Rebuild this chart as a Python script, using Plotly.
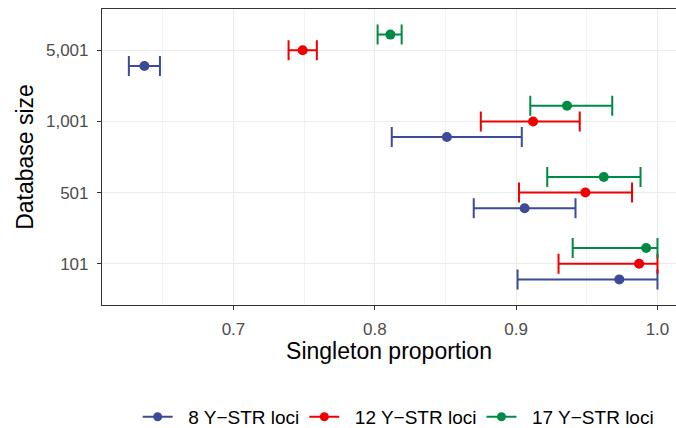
import plotly.graph_objects as go

categories = ["101", "501", "1,001", "5,001"]
series_names = ["8 Y\u2212STR loci", "12 Y\u2212STR loci", "17 Y\u2212STR loci"]
colors = ["#3B4B9A", "#EE0000", "#008B45"]

# proportions per category (101, 501, 1001, 5001)
est_8 = [0.973, 0.906, 0.851, 0.637]
lo_8 = [0.901, 0.870, 0.812, 0.626]
hi_8 = [1.000, 0.942, 0.904, 0.648]

est_12 = [0.987, 0.949, 0.912, 0.749]
lo_12 = [0.930, 0.902, 0.875, 0.739]
hi_12 = [1.000, 0.982, 0.945, 0.759]

est_17 = [0.992, 0.962, 0.936, 0.811]
lo_17 = [0.940, 0.922, 0.910, 0.802]
hi_17 = [1.000, 0.988, 0.968, 0.819]

x_ticks = [0.7, 0.8, 0.9, 1.0]
x_tick_labels = ["0.7", "0.8", "0.9", "1.0"]

dodge = [-0.22, 0.0, 0.22]
series = [(est_8, lo_8, hi_8), (est_12, lo_12, hi_12), (est_17, lo_17, hi_17)]

fig = go.Figure()
for i, (est, lo, hi) in enumerate(series):
    ypos = [k + 1 + dodge[i] for k in range(len(categories))]
    fig.add_trace(go.Scatter(
        x=est, y=ypos, mode="markers",
        marker=dict(color=colors[i], size=10),
        error_x=dict(type="data", symmetric=False,
                     array=[h - e for h, e in zip(hi, est)],
                     arrayminus=[e - l for e, l in zip(est, lo)],
                     color=colors[i], thickness=2, width=10),
        showlegend=False, cliponaxis=False))
for i in range(3):
    fig.add_trace(go.Scatter(
        x=[None], y=[None], mode="lines+markers", name="\u00a0\u00a0" + series_names[i],
        line=dict(color=colors[i], width=2),
        marker=dict(color=colors[i], size=9)))

fig.update_layout(
    width=676, height=428,
    margin=dict(l=101.5, r=0, t=9, b=123),
    plot_bgcolor="white", paper_bgcolor="white",
    font=dict(family="Liberation Sans, Arial, sans-serif", color="black"),
    legend=dict(orientation="h", x=0.589, xanchor="center", xref="container",
                y=0.026, yanchor="middle", yref="container",
                font=dict(size=19, color="black"),
                itemwidth=30, tracegroupgap=0),
    xaxis=dict(range=[0.607, 1.0131], tickvals=x_ticks, ticktext=x_tick_labels,
               showgrid=True, gridcolor="#EBEBEB", gridwidth=1.2,
               minor=dict(dtick=0.05, tick0=0.65, showgrid=True, gridcolor="#F2F2F2", gridwidth=0.8),
               showline=True, linecolor="#333333", linewidth=1.2, mirror=True,
               ticks="outside", ticklen=4, tickcolor="#333333", tickwidth=1.1,
               tickfont=dict(size=17, color="#4D4D4D"), ticklabelstandoff=4,
               title=dict(text="Singleton proportion", font=dict(size=23), standoff=4),
               zeroline=False),
    yaxis=dict(range=[0.42, 4.58], tickvals=[1, 2, 3, 4], ticktext=categories,
               showgrid=True, gridcolor="#EBEBEB", gridwidth=1.2,
               showline=True, linecolor="#333333", linewidth=1.2,
               ticks="outside", ticklen=4, tickcolor="#333333", tickwidth=1.1,
               tickfont=dict(size=17, color="#4D4D4D"), ticklabelstandoff=5,
               title=dict(text="Database size", font=dict(size=23), standoff=5),
               zeroline=False),
)

fig.write_html("out.html")
